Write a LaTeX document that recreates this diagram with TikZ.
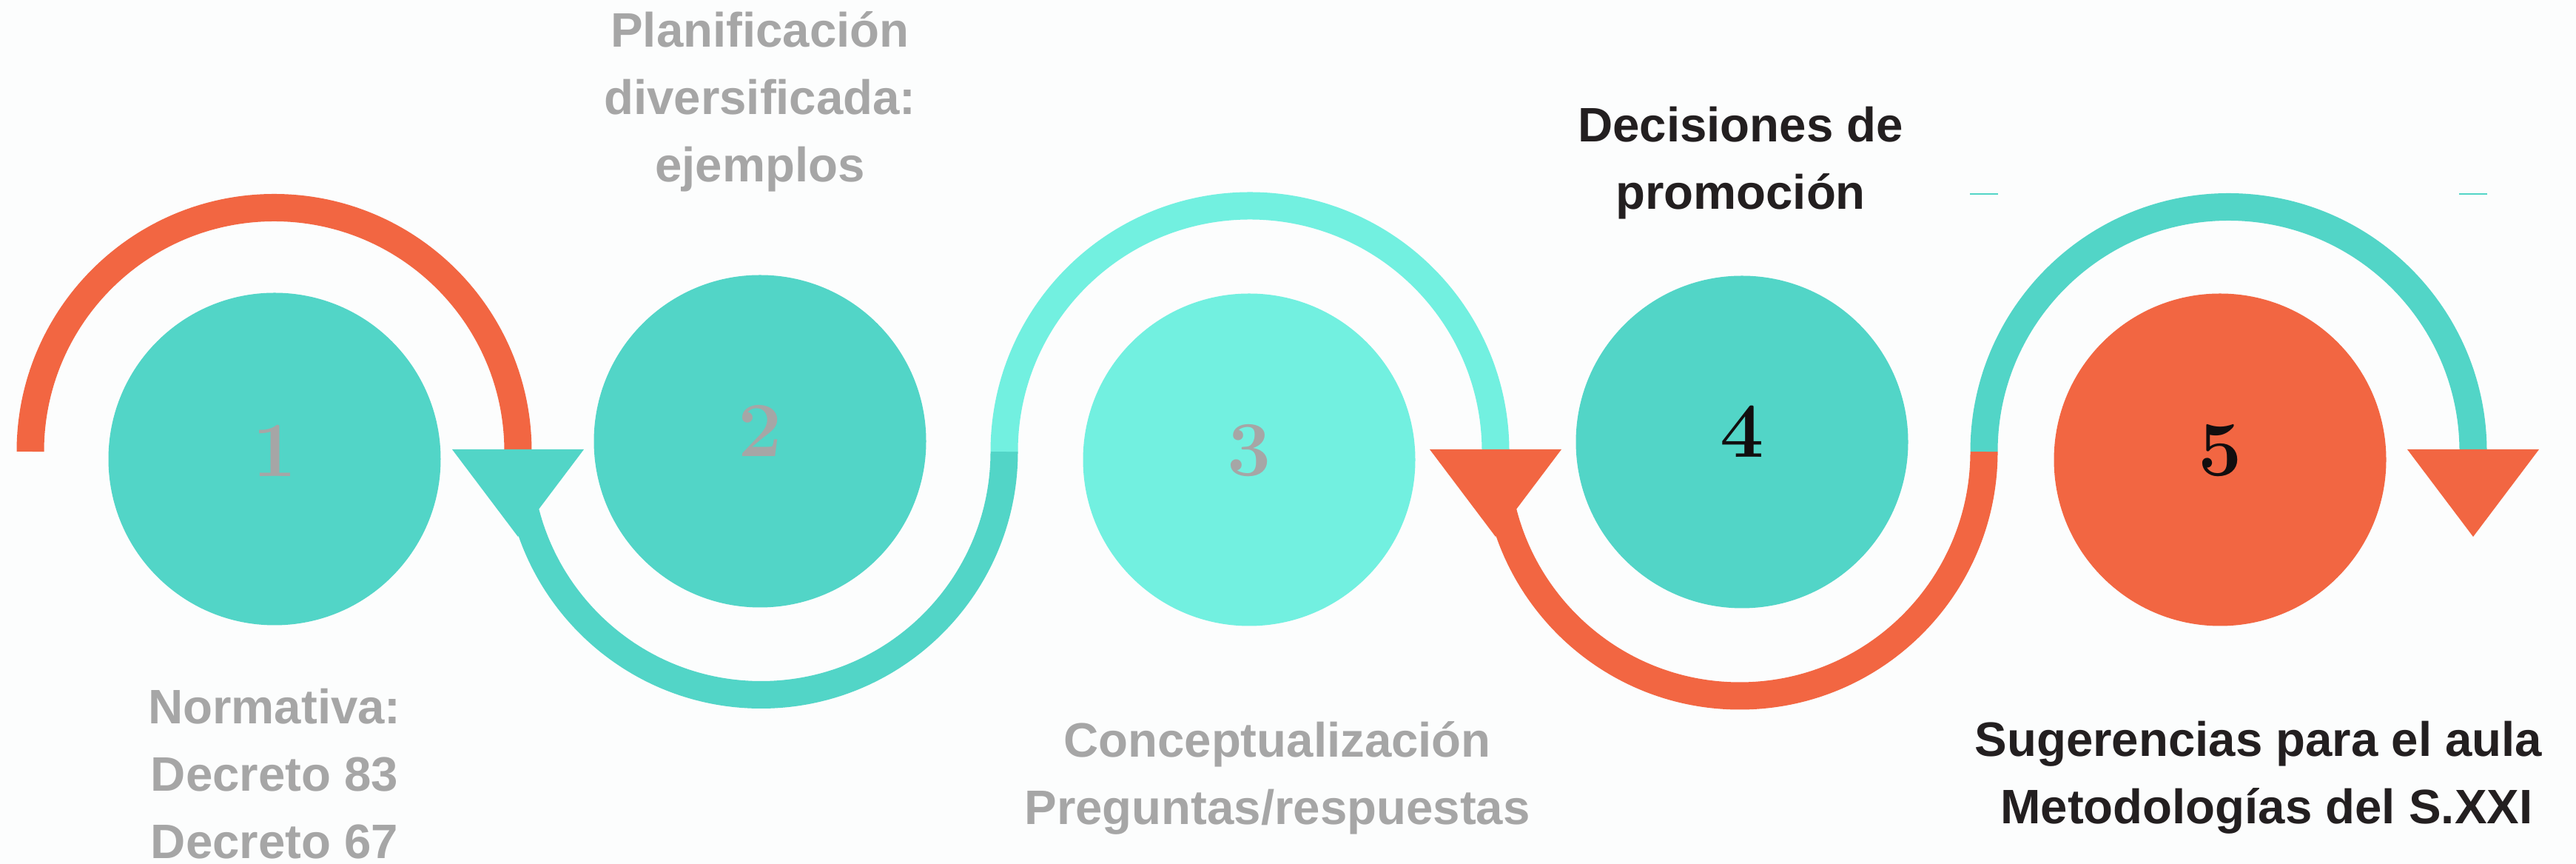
\documentclass[tikz,border=0pt]{standalone}
\usepackage{fontspec}
\newfontfamily\capfont{Liberation Sans}
\usepackage{color}
\definecolor{tealA}{HTML}{52D5C7}
\definecolor{tealB}{HTML}{72F0E0}
\definecolor{coral}{HTML}{F26642}
\definecolor{greytxt}{HTML}{A6A6A6}
\definecolor{darktxt}{HTML}{231F20}
\definecolor{numdark}{HTML}{120E0F}
\definecolor{paper}{HTML}{FCFDFD}

\begin{document}
\begin{tikzpicture}[
	disc/.style={circle,inner sep=0pt,minimum size=4.49cm},
	num/.style={inner sep=0pt,font=\fontsize{30}{30}\selectfont\bfseries},
	band/.style={line width=0.37cm},
	caption/.style={inner sep=0pt,align=center,anchor=base,font=\capfont\bfseries\fontsize{18.6}{25.9}\selectfont}]
	\path[use as bounding box,fill=paper] (0,0) rectangle (34.81,11.67);
	\coordinate (a0) at (0.41,5.57);
	\coordinate (a1) at (7.00,5.57);
	\coordinate (a2) at (13.57,5.57);
	\coordinate (a3) at (20.21,5.57);
	\coordinate (a4) at (26.81,5.57);
	\coordinate (a5) at (33.42,5.57);
	\draw[band,coral] (a0) arc[start angle=180,end angle=0,radius=3.295];
	\draw[band,tealA] (a1) arc[start angle=180,end angle=360,radius=3.285];
	\draw[band,tealB] (a2) arc[start angle=180,end angle=0,radius=3.32];
	\draw[band,coral] (a3) arc[start angle=180,end angle=360,radius=3.30];
	\draw[band,tealA] (a4) arc[start angle=180,end angle=0,radius=3.305];
	\draw[tealA,line width=0.02cm] (a4) ++(-0.19,3.48) -- ++(0.38,0);
	\draw[tealA,line width=0.02cm] (a5) ++(-0.19,3.48) -- ++(0.38,0);
	\fill[tealA] (a1) ++(-0.89,0.03) -- ++(1.78,0) -- ++(-0.89,-1.18) -- cycle;
	\fill[coral] (a3) ++(-0.89,0.03) -- ++(1.78,0) -- ++(-0.89,-1.18) -- cycle;
	\fill[coral] (a5) ++(-0.89,0.03) -- ++(1.78,0) -- ++(-0.89,-1.18) -- cycle;
	\node[disc,fill=tealA] (c1) at (3.71,5.47) {};
	\node[disc,fill=tealA] (c2) at (10.27,5.71) {};
	\node[disc,fill=tealB] (c3) at (16.88,5.46) {};
	\node[disc,fill=tealA] (c4) at (23.54,5.70) {};
	\node[disc,fill=coral] (c5) at (30.00,5.46) {};
	\node[num,text=greytxt] (n1) at ([yshift=0.11cm]c1.center) {1};
	\node[num,text=greytxt] (n2) at ([yshift=0.14cm]c2.center) {2};
	\node[num,text=greytxt] (n3) at ([yshift=0.12cm]c3.center) {3};
	\node[num,text=numdark] (n4) at ([yshift=0.14cm]c4.center) {4};
	\node[num,text=numdark] (n5) at ([yshift=0.12cm]c5.center) {5};
	\node[caption,text=greytxt] (t1) at (3.71,0.07) {Normativa:\\Decreto 83\\Decreto 67};
	\node[caption,text=greytxt] (t2) at (10.27,9.21) {Planificación\\diversificada:\\ejemplos};
	\node[caption,text=greytxt] (t3) at (17.26,0.53) {Conceptualización\\Preguntas/respuestas};
	\node[caption,text=darktxt] (t4) at (23.52,8.84) {Decisiones de\\promoción};
	\node[caption,text=darktxt] (t5) at (30.52,0.54) {Sugerencias para el aula\\\hspace*{0.33em}Metodologías del S.XXI};
\end{tikzpicture}
\end{document}
